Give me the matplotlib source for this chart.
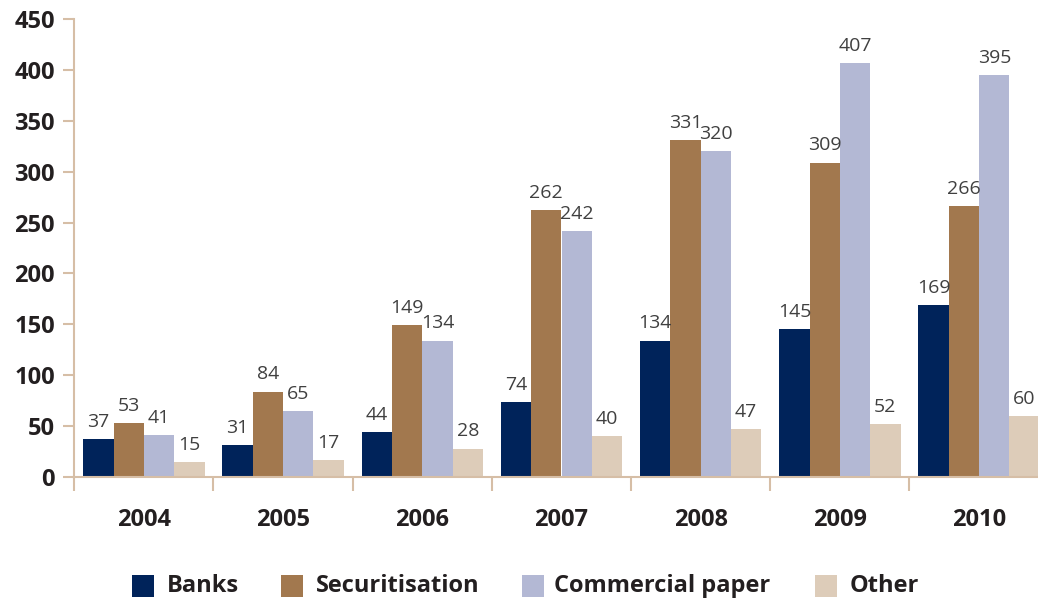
import matplotlib
matplotlib.use("Agg")
import matplotlib.pyplot as plt
import numpy as np
from matplotlib.patches import Rectangle

years = ["2004", "2005", "2006", "2007", "2008", "2009", "2010"]
banks = [37, 31, 44, 74, 134, 145, 169]
securitisation = [53, 84, 149, 262, 331, 309, 266]
commercial_paper = [41, 65, 134, 242, 320, 407, 395]
other = [15, 17, 28, 40, 47, 52, 60]

series_names = ["Banks", "Securitisation", "Commercial paper", "Other"]
series_values = [banks, securitisation, commercial_paper, other]
series_colors = ["#00235a", "#a2784e", "#b3b8d4", "#ddccb9"]

axis_color = "#d6bea6"
text_dark = "#231f20"
plt.rcParams["font.family"] = ["Open Sans", "DejaVu Sans"]

W, H = 1038, 601
fig = plt.figure(figsize=(W / 100, H / 100), dpi=100)
ax_left, ax_bottom, ax_top = 74.3, 477, 19
ax = fig.add_axes([ax_left / W, 1 - ax_bottom / H, 1 - ax_left / W,
                   (ax_bottom - ax_top) / H])

x = np.arange(len(years))
w = 0.218
offsets = [-1.5 * w, -0.5 * w, 0.5 * w, 1.5 * w]
for name, vals, col, off in zip(series_names, series_values, series_colors, offsets):
    ax.bar(x + off, vals, width=w, color=col, label=name, linewidth=0)
    for xi, v in zip(x + off, vals):
        ax.text(xi, v + 8, str(v), ha="center", va="bottom", fontsize=14,
                color="#404040")

ax.set_yticks(np.arange(0, 451, 50))
ax.tick_params(axis="y", direction="out", length=8, width=1.5, color=axis_color,
               labelsize=17, pad=6)
for lbl in ax.get_yticklabels():
    lbl.set_fontweight("bold")
    lbl.set_color(text_dark)

ax.set_xticks(x)
ax.set_xticklabels(years, fontsize=17, fontweight="bold", color=text_dark)
ax.tick_params(axis="x", which="major", length=0, pad=22)
ax.set_xticks(np.arange(-0.5, len(years), 1.0), minor=True)
ax.tick_params(axis="x", which="minor", direction="out", length=10, width=1.5,
               color=axis_color)

# limits set after the ticks so the group separators don't widen the view;
# the last group runs past the right edge of the figure
group_px = 139.2
ax.set_xlim(-0.5, (W - ax_left) / group_px - 0.5)
ax.set_ylim(0, 450)

for s in ["top", "right"]:
    ax.spines[s].set_visible(False)
for s in ["left", "bottom"]:
    ax.spines[s].set_color(axis_color)
    ax.spines[s].set_linewidth(1.5)

# legend row drawn in figure pixel coordinates
swatch_x = [132, 281, 522, 815]
label_x = [167, 316, 554, 850]
sw = 22
legend_y = 586
for name, col, sx, lx in zip(series_names, series_colors, swatch_x, label_x):
    fig.patches.append(Rectangle((sx / W, 1 - (legend_y + sw / 2) / H), sw / W, sw / H,
                                 transform=fig.transFigure, facecolor=col,
                                 edgecolor="none"))
    fig.text(lx / W, 1 - legend_y / H, name, ha="left", va="center",
             fontsize=17, fontweight="bold", color=text_dark)

fig.savefig("out.png", dpi=100)
